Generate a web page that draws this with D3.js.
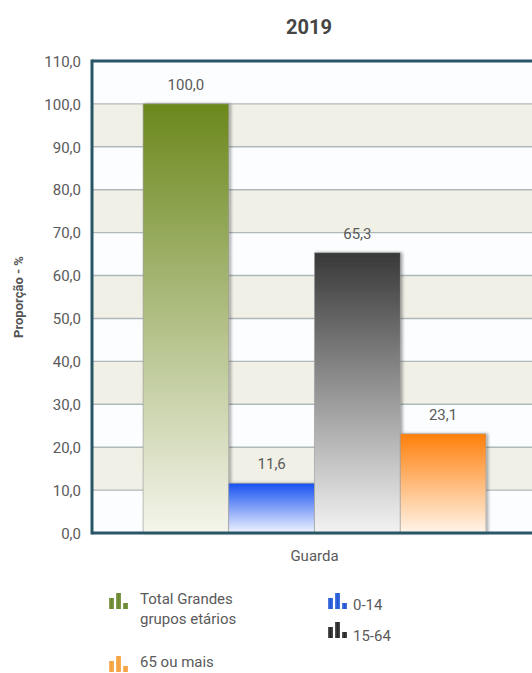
<!DOCTYPE html>
<html><head><meta charset="utf-8">
<script src="https://cdn.jsdelivr.net/npm/d3@7"></script>
<style>
body{margin:0;background:#fff;font-family:Roboto,"Noto Sans",sans-serif;}
svg{display:block;}
</style></head>
<body>
<svg id="chart" width="532" height="673"></svg>
<script>
const title = "2019";
const categories = ["Guarda"];
const seriesNames = ["Total Grandes grupos etários", "0-14", "15-64", "65 ou mais"];
const seriesValues = [100.0, 11.6, 65.3, 23.1];
const yTicks = [0,10,20,30,40,50,60,70,80,90,100,110];
const seriesTop = ["#6b881c", "#1650f0", "#383838", "#ff7f0a"];
const seriesBottom = ["#f5f5ec", "#f0f4ff", "#f3f3f3", "#fff5ea"];
const legendColors = ["#67862a", "#1f56d6", "#252525", "#f5a03a"];

const svg = d3.select("#chart");
const m = {left: 92, top: 61, right: 537, bottom: 533};
const fmt = v => d3.format(".1f")(v).replace(".", ",");

const y = d3.scaleLinear().domain([0,110]).range([m.bottom, m.top]);
const x0 = d3.scaleBand().domain(categories).range([m.left, m.right]).paddingInner(0).paddingOuter(0.149);
const x1 = d3.scaleBand().domain(seriesNames).range([0, x0.bandwidth()]).padding(0);

const defs = svg.append("defs");
seriesNames.forEach((s,i)=>{
  const g = defs.append("linearGradient").attr("id","g"+i).attr("x1",0).attr("x2",0).attr("y1",0).attr("y2",1);
  g.append("stop").attr("offset","0%").attr("stop-color",seriesTop[i]);
  g.append("stop").attr("offset","100%").attr("stop-color",seriesBottom[i]);
});
const f = defs.append("filter").attr("id","sh").attr("x","-10%").attr("y","-10%").attr("width","130%").attr("height","120%");
f.append("feDropShadow").attr("dx",2).attr("dy",0).attr("stdDeviation",1.5).attr("flood-color","#000").attr("flood-opacity",0.35);
legendColors.forEach((c,i)=>{
  const g = defs.append("linearGradient").attr("id","lg"+i).attr("x1",0).attr("x2",1).attr("y1",0).attr("y2",0);
  g.append("stop").attr("offset","0%").attr("stop-color",c).attr("stop-opacity",0.75);
  g.append("stop").attr("offset","50%").attr("stop-color",c);
  g.append("stop").attr("offset","100%").attr("stop-color",c).attr("stop-opacity",0.8);
});

// bands
for (let i=0;i<yTicks.length-1;i++){
  svg.append("rect").attr("x",m.left).attr("width",m.right-m.left)
    .attr("y",y(yTicks[i+1])).attr("height",y(yTicks[i])-y(yTicks[i+1]))
    .attr("fill", i%2===1 ? "#f0f0e7" : "#fbfdfe");
}
// gridlines
svg.append("g").selectAll("line").data(yTicks.slice(1,-1)).join("line")
  .attr("x1",m.left).attr("x2",m.right).attr("y1",d=>y(d)).attr("y2",d=>y(d))
  .attr("stroke","#b0b9b9").attr("stroke-width",1.4);

// title
svg.append("text").attr("x",309).attr("y",34).attr("text-anchor","middle")
  .attr("font-size",20).attr("font-weight","bold").attr("fill","#454545").text(title);

// y axis ticks
const yAxis = d3.axisLeft(y).tickValues(yTicks).tickFormat(fmt).tickSize(0).tickPadding(11);
const ga = svg.append("g").attr("transform",`translate(${m.left},0)`).call(yAxis);
ga.select(".domain").remove();
ga.selectAll("text").attr("font-size",15).attr("fill","#5a5a5a").attr("font-family","Roboto,sans-serif").attr("dy","0.35em");

// y title
svg.append("text").attr("transform","translate(23,297) rotate(-90)").attr("text-anchor","middle")
  .attr("font-size",13).attr("font-weight","bold").attr("fill","#555").text("Proporção - %");

// bars
const gb = svg.append("g");
categories.forEach(c=>{
  seriesNames.forEach((s,i)=>{
    const v = seriesValues[i];
    const bx = x0(c)+x1(s);
    gb.append("rect").attr("x",bx).attr("y",y(v)).attr("width",x1.bandwidth()).attr("height",y(0)-y(v))
      .attr("fill",`url(#g${i})`).attr("stroke","#9a9a9a").attr("stroke-width",0.6).attr("filter","url(#sh)");
    gb.append("text").attr("x",bx+x1.bandwidth()/2).attr("y",y(v)-14).attr("text-anchor","middle")
      .attr("font-size",15).attr("fill","#5a5a5a").text(fmt(v));
  });
});

// axes frame
const frame = "#285666";
svg.append("line").attr("x1",m.left).attr("x2",m.right).attr("y1",m.top).attr("y2",m.top).attr("stroke",frame).attr("stroke-width",3);
svg.append("line").attr("x1",m.left).attr("x2",m.right).attr("y1",m.bottom).attr("y2",m.bottom).attr("stroke",frame).attr("stroke-width",3);
svg.append("line").attr("x1",m.left).attr("x2",m.left).attr("y1",m.top-1.5).attr("y2",m.bottom+1.5).attr("stroke",frame).attr("stroke-width",3);

// x axis category
const xAxis = d3.axisBottom(x0).tickSize(0).tickPadding(14);
const gx = svg.append("g").attr("transform",`translate(0,${m.bottom})`).call(xAxis);
gx.select(".domain").remove();
gx.selectAll("text").attr("font-size",15).attr("fill","#5a5a5a").attr("font-family","Roboto,sans-serif").attr("dy","0.9em");

// legend
function icon(x,yb,i){
  const g = svg.append("g").attr("transform",`translate(${x},${yb})`);
  const fill = `url(#lg${i})`;
  g.append("rect").attr("x",0).attr("y",-11).attr("width",5).attr("height",11).attr("fill",fill);
  g.append("rect").attr("x",7).attr("y",-16).attr("width",5).attr("height",16).attr("fill",fill);
  g.append("rect").attr("x",14).attr("y",-6).attr("width",5).attr("height",6).attr("fill",fill);
}
const legend = [
  {i:0, x:109, y:604, iy:609, tx:140, lines:["Total Grandes","grupos etários"]},
  {i:1, x:328, y:610, iy:609, tx:353, lines:["0-14"]},
  {i:2, x:328, y:641, iy:638, tx:353, lines:["15-64"]},
  {i:3, x:109, y:667, iy:672, tx:140, lines:["65 ou mais"]}
];
legend.forEach(L=>{
  icon(L.x, L.iy, L.i);
  const t = svg.append("text").attr("x",L.tx).attr("y",L.y).attr("font-size",15).attr("fill","#5a5a5a");
  L.lines.forEach((ln,k)=>t.append("tspan").attr("x",L.tx).attr("dy",k===0?0:20).text(ln));
});
</script>
</body></html>
